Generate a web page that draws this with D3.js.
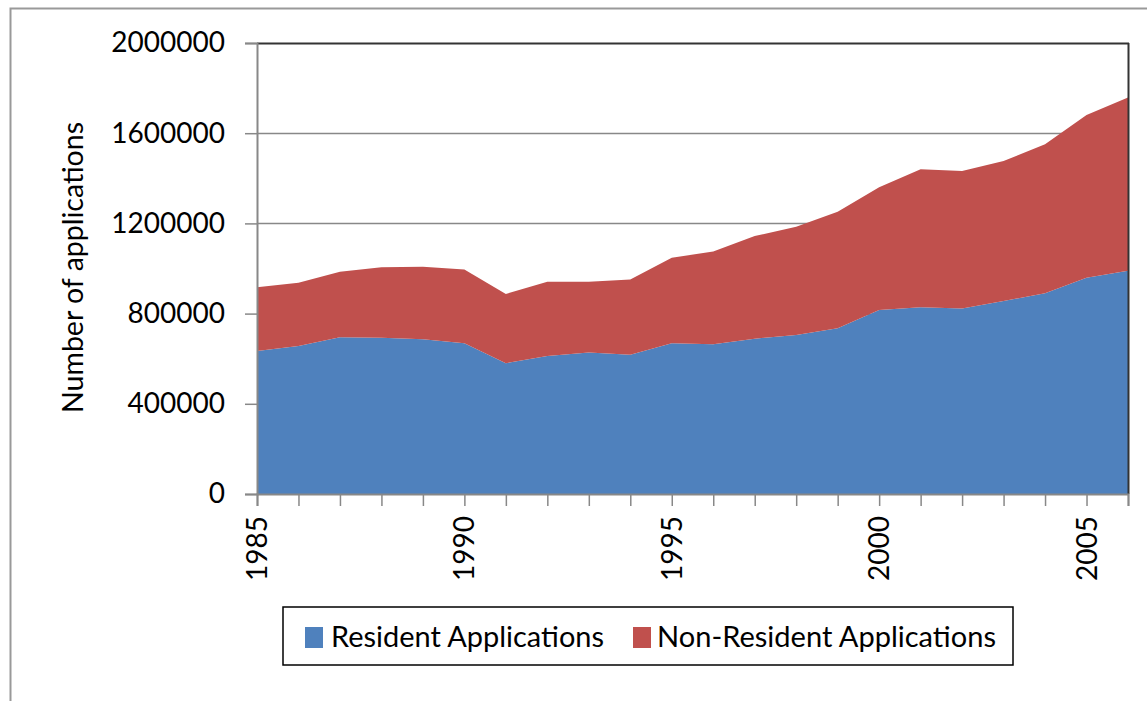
<!DOCTYPE html>
<html><head><meta charset="utf-8">
<script src="https://cdn.jsdelivr.net/npm/d3@7"></script>
<style>body{margin:0;background:#fff}svg{display:block}text{font-family:Lato,"Open Sans",sans-serif;fill:#000}</style>
</head><body>
<script>
const years = [1985,1986,1987,1988,1989,1990,1991,1992,1993,1994,1995,1996,1997,1998,1999,2000,2001,2002,2003,2004,2005,2006];
const resident = [634000,656000,695000,693000,686000,668000,580000,612000,628000,618000,668000,664000,689000,705000,735000,816000,828000,823000,856000,890000,959000,990000];
const nonResident = [283000,281000,291000,312000,322000,328000,307000,329000,313000,333000,380000,411000,455000,480000,517000,544000,612000,609000,621000,661000,722000,768000];
const yTicks = [0,400000,800000,1200000,1600000,2000000];
const xLabels = [1985,1990,1995,2000,2005];
const seriesNames = ["Resident Applications","Non-Resident Applications"];
const colors = ["#4F81BD","#C0504D"];

const W=1147,H=701;
const svg=d3.select("body").append("svg").attr("width",W).attr("height",H);
// outer frame
svg.append("path").attr("d",`M10.5,${H}V8.5H${W}`).attr("fill","none").attr("stroke","#999").attr("stroke-width",2);

const L=257,R=1128,T=43,B=494;
const x=d3.scaleLinear().domain([1985,2006]).range([L,R]);
const y=d3.scaleLinear().domain([0,2000000]).range([B,T]);

// gridlines
svg.append("g").selectAll("line").data(yTicks.filter(d=>d>0&&d<2000000)).join("line")
  .attr("x1",L).attr("x2",R).attr("y1",d=>Math.round(y(d))+0.5).attr("y2",d=>Math.round(y(d))+0.5)
  .attr("stroke","#888").attr("stroke-width",1.5);

const table=years.map((yr,i)=>({year:yr,res:resident[i],non:nonResident[i]}));
const stack=d3.stack().keys(["res","non"])(table);
const area=d3.area().x(d=>x(d.data.year)).y0(d=>y(d[0])).y1(d=>y(d[1]));
svg.append("g").selectAll("path").data(stack).join("path").attr("d",area).attr("fill",(d,i)=>colors[i]);

// top and right border
svg.append("line").attr("x1",L).attr("x2",R+1).attr("y1",T+0.5).attr("y2",T+0.5).attr("stroke","#333").attr("stroke-width",2);
svg.append("line").attr("x1",R+0.5).attr("x2",R+0.5).attr("y1",T).attr("y2",B).attr("stroke","#333").attr("stroke-width",2);

// y axis
const ya=svg.append("g").attr("transform",`translate(${L},0)`).call(d3.axisLeft(y).tickValues(yTicks).tickFormat(d3.format("d")).tickSize(12).tickPadding(20));
ya.select(".domain").attr("stroke","#888").attr("stroke-width",2);
ya.selectAll(".tick line").attr("stroke","#888").attr("stroke-width",1.5);
ya.selectAll("text").style("font-size","28px").attr("font-family","Lato");

// x axis
const xa=svg.append("g").attr("transform",`translate(0,${B})`).call(d3.axisBottom(x).tickValues(years).tickSize(12).tickFormat(""));
xa.select(".domain").attr("stroke","#888").attr("stroke-width",2);
xa.selectAll(".tick line").attr("stroke","#888").attr("stroke-width",1.5);
svg.append("g").selectAll("text").data(xLabels).join("text")
  .attr("transform",d=>`translate(${x(d)+10},${B+22}) rotate(-90)`)
  .attr("text-anchor","end").style("font-size","28px").text(d=>d);

// y title
svg.append("text").attr("transform",`translate(83,413) rotate(-90)`).attr("text-anchor","start")
  .attr("textLength",291).attr("lengthAdjust","spacingAndGlyphs")
  .style("font-size","29px").text("Number of applications");

// legend
const lg=svg.append("g");
lg.append("rect").attr("x",283).attr("y",607).attr("width",730).attr("height",58).attr("fill","#fff").attr("stroke","#000").attr("stroke-width",1.5);
const items=[{x:305,tx:331,w:273},{x:633,tx:657,w:339}];
seriesNames.forEach((n,i)=>{
  lg.append("rect").attr("x",items[i].x).attr("y",627).attr("width",18).attr("height",21).attr("fill",colors[i]);
  lg.append("text").attr("x",items[i].tx).attr("y",647).attr("textLength",items[i].w).attr("lengthAdjust","spacingAndGlyphs")
    .style("font-size","29px").text(n);
});
</script>
</body></html>
